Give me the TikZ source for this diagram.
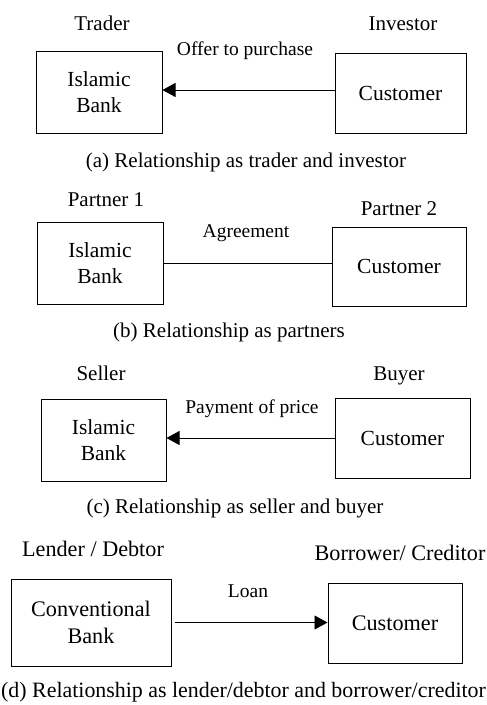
\documentclass[tikz,border=0pt]{standalone}
\usepackage{fontspec}
\setmainfont{Liberation Serif}
\usetikzlibrary{arrows.meta}
\begin{document}
\begin{tikzpicture}[x=1pt,y=-1pt,
 box/.style={draw,line width=1pt,inner sep=0pt,align=center,font=\fontsize{21.5}{26}\selectfont},
 lbl/.style={anchor=base,inner sep=0pt,font=\fontsize{21}{25}\selectfont},
 biglbl/.style={lbl,font=\fontsize{22.2}{26}\selectfont},
 alb/.style={anchor=base,inner sep=0pt,font=\fontsize{19.5}{23}\selectfont},
 conn/.style={line width=0.9pt},
 arr/.style={conn,-{Triangle[length=13pt,width=14pt]}}]
\useasboundingbox (0,0) rectangle (487,705);
% (a)
\node[box,minimum width=126pt,minimum height=82pt] (bank1) at (99,92) {Islamic\\Bank};
\node[box,minimum width=131pt,minimum height=80pt] (cust1) at (400.5,93) {Customer};
\node[lbl] (tr) at (102,30) {Trader};
\node[lbl] (inv) at (403,30) {Investor};
\node[alb] (offer) at (245,55) {Offer to purchase};
\node[lbl] (capa) at (246,167) {(a) Relationship as trader and investor};
\draw[arr] ([yshift=3pt]cust1.west) -- ([yshift=3pt]cust1.west -| bank1.east);
% (b)
\node[box,minimum width=126pt,minimum height=82pt] (bank2) at (100,263) {Islamic\\Bank};
\node[box,minimum width=134pt,minimum height=79pt] (cust2) at (399,266.5) {Customer};
\node[lbl] (p1) at (106,206) {Partner 1};
\node[lbl] (p2) at (399,215) {Partner 2};
\node[alb] (agr) at (246,237) {Agreement};
\node[lbl] (capb) at (229,337) {(b) Relationship as partners};
\draw[conn] (bank2.east) -- (bank2.east -| cust2.west);
% (c)
\node[box,minimum width=125pt,minimum height=82pt] (bank3) at (103.5,440) {Islamic\\Bank};
\node[box,minimum width=135pt,minimum height=80pt] (cust3) at (402.5,438) {Customer};
\node[lbl] (sel) at (101,380) {Seller};
\node[lbl] (buy) at (399,380) {Buyer};
\node[alb] (pay) at (252,413) {Payment of price};
\node[lbl] (capc) at (235,513) {(c) Relationship as seller and buyer};
\draw[arr] (cust3.west) -- (cust3.west -| bank3.east);
% (d)
\node[box,font=\fontsize{22.2}{26.5}\selectfont,minimum width=160pt,minimum height=87pt] (bank4) at (91,622.5) {Conventional\\Bank};
\node[box,font=\fontsize{22.2}{26.5}\selectfont,minimum width=134pt,minimum height=80pt] (cust4) at (395,623) {Customer};
\node[biglbl] (len) at (93,556) {Lender / Debtor};
\node[biglbl] (bor) at (400,560) {Borrower/ Creditor};
\node[alb] (loan) at (248,597) {Loan};
\node[lbl,font=\fontsize{21.9}{26}\selectfont,anchor=base west] (capd) at (1,697) {(d) Relationship as lender/debtor and borrower/creditor};
\draw[arr,shorten <=3pt] (bank4.east) -- (bank4.east -| cust4.west);
\end{tikzpicture}
\end{document}
